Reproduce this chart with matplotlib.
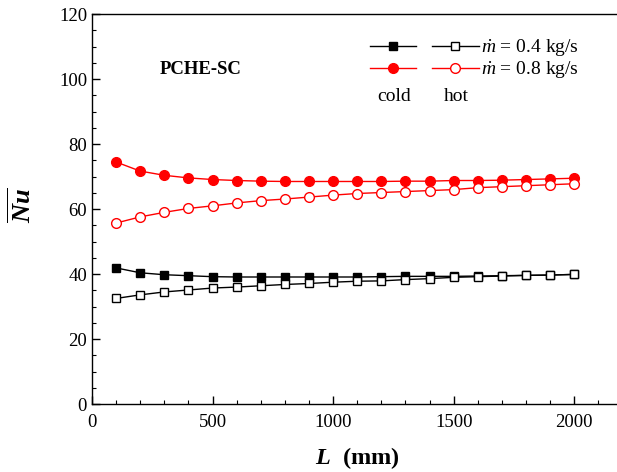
import matplotlib
matplotlib.use("Agg")
import matplotlib.pyplot as plt
from matplotlib.ticker import MultipleLocator
from matplotlib.legend_handler import HandlerTuple

plt.rcParams["font.family"] = "Liberation Serif"
plt.rcParams["mathtext.fontset"] = "custom"
plt.rcParams["mathtext.rm"] = "Liberation Serif"
plt.rcParams["mathtext.it"] = "Liberation Serif:italic"
plt.rcParams["mathtext.bf"] = "Liberation Serif:bold"
plt.rcParams["mathtext.bfit"] = "Liberation Serif:italic:bold"

# channel length (mm)
length = [100, 200, 300, 400, 500, 600, 700, 800, 900, 1000,
          1100, 1200, 1300, 1400, 1500, 1600, 1700, 1800, 1900, 2000]

# mean Nusselt number, m = 0.4 kg/s
cold_04 = [41.9, 40.4, 39.8, 39.5, 39.2, 39.1, 39.1, 39.1, 39.1, 39.1,
           39.1, 39.2, 39.3, 39.3, 39.3, 39.4, 39.5, 39.6, 39.7, 39.9]
hot_04 = [32.5, 33.6, 34.5, 35.1, 35.7, 36.0, 36.4, 36.8, 37.1, 37.5,
          37.8, 37.9, 38.3, 38.6, 39.0, 39.2, 39.4, 39.6, 39.7, 39.9]

# mean Nusselt number, m = 0.8 kg/s
cold_08 = [74.5, 71.7, 70.4, 69.6, 69.1, 68.8, 68.6, 68.5, 68.5, 68.5,
           68.5, 68.5, 68.6, 68.6, 68.8, 68.8, 68.9, 69.1, 69.3, 69.5]
hot_08 = [55.7, 57.6, 59.0, 60.2, 61.0, 61.9, 62.6, 63.1, 63.7, 64.3,
          64.8, 65.1, 65.4, 65.7, 66.0, 66.6, 66.9, 67.2, 67.5, 67.8]

red = "#ff0000"

fig = plt.figure(figsize=(6.17, 4.72), dpi=100)
ax = fig.add_axes([0.149, 0.144, 0.86, 0.826])

c4, = ax.plot(length, cold_04, color="black", lw=1, marker="s", ms=6,
              mfc="black", mec="black")
h4, = ax.plot(length, hot_04, color="black", lw=1, marker="s", ms=6,
              mfc="white", mec="black")
c8, = ax.plot(length, cold_08, color=red, lw=1, marker="o", ms=7,
              mfc=red, mec=red)
h8, = ax.plot(length, hot_08, color=red, lw=1, marker="o", ms=7,
              mfc="white", mec=red)

ax.set_xlim(0, 2200)
ax.set_ylim(0, 120)
ax.xaxis.set_major_locator(MultipleLocator(500))
ax.xaxis.set_minor_locator(MultipleLocator(100))
ax.yaxis.set_major_locator(MultipleLocator(20))
ax.yaxis.set_minor_locator(MultipleLocator(5))
ax.tick_params(which="both", direction="in", labelsize=13.5)
ax.tick_params(which="major", length=6, width=1)
ax.tick_params(which="minor", length=3, width=0.8)
ax.tick_params(axis="x", pad=7)
ax.spines["right"].set_visible(False)
for s in ax.spines.values():
    s.set_linewidth(1)

ax.set_xlabel(r"$\mathbfit{L}$  (mm)", fontsize=17.5, fontweight="bold",
              labelpad=10)
ax.set_ylabel(r"$\overline{\mathbfit{Nu}}$", fontsize=19)
ax.yaxis.set_label_coords(-0.106, 0.51)

ax.text(0.205, 0.857, "PCHE-SC", transform=ax.transAxes, fontsize=13.5,
        fontweight="bold", ha="center", va="center")

leg = ax.legend([(c4, h4), (c8, h8)],
                [r"$\dot{m}$ = 0.4 kg/s", r"$\dot{m}$ = 0.8 kg/s"],
                handler_map={tuple: HandlerTuple(ndivide=2, pad=0.85)},
                handlelength=5.6, fontsize=14, frameon=False,
                loc="upper left", bbox_to_anchor=(0.505, 0.966),
                labelspacing=0.05, handletextpad=0.15, borderpad=0)

ax.text(0.569, 0.79, "cold", transform=ax.transAxes, fontsize=14,
        ha="center", va="center")
ax.text(0.686, 0.79, "hot", transform=ax.transAxes, fontsize=14,
        ha="center", va="center")

fig.savefig("out.png", dpi=100)
